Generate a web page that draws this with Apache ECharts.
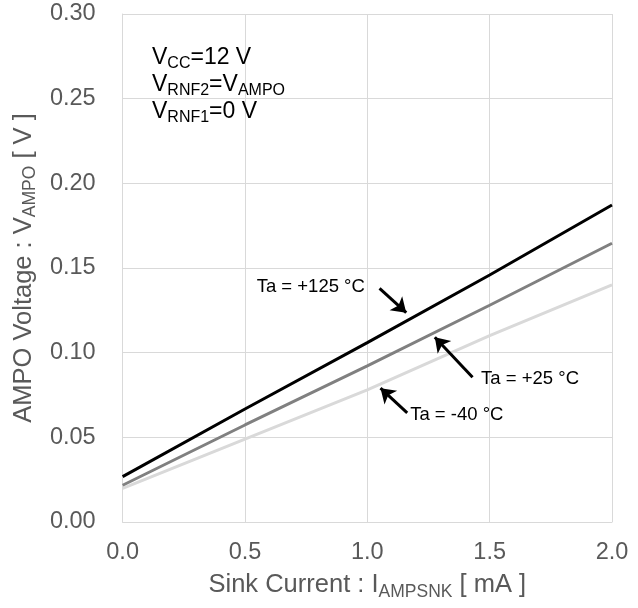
<!DOCTYPE html>
<html>
<head>
<meta charset="utf-8">
<script src="https://cdn.jsdelivr.net/npm/echarts@6/dist/echarts.min.js"></script>
<style>html,body{margin:0;padding:0;background:#fff;}#c{width:638px;height:608px;}</style>
</head>
<body>
<div id="c"></div>
<script>
// Data
const current = [0.0, 0.5, 1.0, 1.5, 2.0];            // Sink current [mA]
const v125 = [0.0268, 0.0667, 0.1059, 0.1459, 0.1872];  // Ta = +125 °C
const v25  = [0.0217, 0.0573, 0.0922, 0.1280, 0.1646];  // Ta = +25 °C
const vm40 = [0.0199, 0.0490, 0.0780, 0.1100, 0.1400];  // Ta = -40 °C
const xTicks = ['0.0', '0.5', '1.0', '1.5', '2.0'];
const yTicks = ['0.00', '0.05', '0.10', '0.15', '0.20', '0.25', '0.30'];

// annotation anchors (data coordinates)
const lbl125 = { text: 'Ta = +125 °C', at: [0.99, 0.1386], arrow: [[1.050, 0.1380], [1.159, 0.1236]] };
const lbl25  = { text: 'Ta = +25 °C',  at: [1.465, 0.0845], arrow: [[1.430, 0.0855], [1.276, 0.1091]] };
const lblm40 = { text: 'Ta = -40 °C',  at: [1.175, 0.0630], arrow: [[1.163, 0.0645], [1.054, 0.0790]] };

const FONT = '"Liberation Sans", Arial, sans-serif';
const pairs = ys => current.map((x, i) => [x, ys[i]]);

function annot(a, pos) {
  return {
    markLine: {
      silent: true, animation: false,
      symbol: ['none', 'arrow'], symbolSize: 14,
      lineStyle: { color: '#000', width: 3, type: 'solid' },
      itemStyle: { color: '#000' },
      label: { show: false },
      data: [[
        { coord: a.arrow[0], symbol: 'none' },
        { coord: a.arrow[1], symbol: 'arrow', symbolSize: 14, itemStyle: { color: '#000' } }
      ]]
    },
    markPoint: {
      silent: true, animation: false,
      symbol: 'circle', symbolSize: 0,
      label: { show: true, position: pos, distance: 0, color: '#000', fontSize: 18.5, fontFamily: FONT, formatter: a.text },
      data: [{ coord: a.at }]
    }
  };
}

const richAxis = {
  b: { fontSize: 25.5, fontFamily: FONT, color: '#595959', lineHeight: 30 },
  s: { fontSize: 17.5, fontFamily: FONT, color: '#595959', lineHeight: 30, padding: [13, 0, 0, 0] }
};

const chart = echarts.init(document.getElementById('c'), null, { renderer: 'canvas' });
chart.setOption({
  animation: false,
  backgroundColor: '#fff',
  grid: { left: 120, right: 26, top: 14, bottom: 86, containLabel: false },
  title: {
    left: 147, top: 39,
    text: '{b|V}{s|CC}{b|=12 V}\n{b|V}{s|RNF2}{b|=V}{s|AMPO}\n{b|V}{s|RNF1}{b|=0 V}',
    textStyle: {
      fontWeight: 'normal',
      rich: {
        b: { fontSize: 23, fontFamily: FONT, color: '#000', fontWeight: 'normal', lineHeight: 27 },
        s: { fontSize: 16, fontFamily: FONT, color: '#000', fontWeight: 'normal', lineHeight: 27, padding: [12, 0, 0, 0] }
      }
    }
  },
  xAxis: {
    type: 'value', min: 0, max: 2, interval: 0.5,
    name: '{b|Sink Current : I}{s|AMPSNK}{b| [ mA ]}',
    nameLocation: 'middle', nameGap: 41,
    nameTextStyle: { rich: richAxis },
    axisLine: { show: true, lineStyle: { color: '#d9d9d9', width: 1 } },
    axisTick: { show: false },
    axisLabel: { color: '#595959', fontSize: 23.5, fontFamily: FONT, margin: 19,
      formatter: v => xTicks[Math.round(v / 0.5)] },
    splitLine: { show: true, lineStyle: { color: '#d9d9d9', width: 1 } }
  },
  yAxis: {
    type: 'value', min: 0, max: 0.3, interval: 0.05,
    name: '{b|AMPO Voltage : V}{s|AMPO}{b| [ V ]}',
    nameLocation: 'middle', nameGap: 76, nameRotate: 90,
    nameTextStyle: { rich: richAxis },
    axisLine: { show: true, lineStyle: { color: '#d9d9d9', width: 1 } },
    axisTick: { show: false },
    axisLabel: { color: '#595959', fontSize: 23.5, fontFamily: FONT, margin: 27,
      formatter: v => yTicks[Math.round(v / 0.05)] },
    splitLine: { show: true, lineStyle: { color: '#d9d9d9', width: 1 } }
  },
  series: [
    Object.assign({ name: 'Ta = -40 °C', type: 'line', data: pairs(vm40), showSymbol: false,
      lineStyle: { color: '#d9d9d9', width: 3 }, itemStyle: { color: '#d9d9d9' }, z: 3 }, annot(lblm40, 'right')),
    Object.assign({ name: 'Ta = +25 °C', type: 'line', data: pairs(v25), showSymbol: false,
      lineStyle: { color: '#808080', width: 3 }, itemStyle: { color: '#808080' }, z: 4 }, annot(lbl25, 'right')),
    Object.assign({ name: 'Ta = +125 °C', type: 'line', data: pairs(v125), showSymbol: false,
      lineStyle: { color: '#000000', width: 3 }, itemStyle: { color: '#000000' }, z: 5 }, annot(lbl125, 'left'))
  ]
});
</script>
</body>
</html>
